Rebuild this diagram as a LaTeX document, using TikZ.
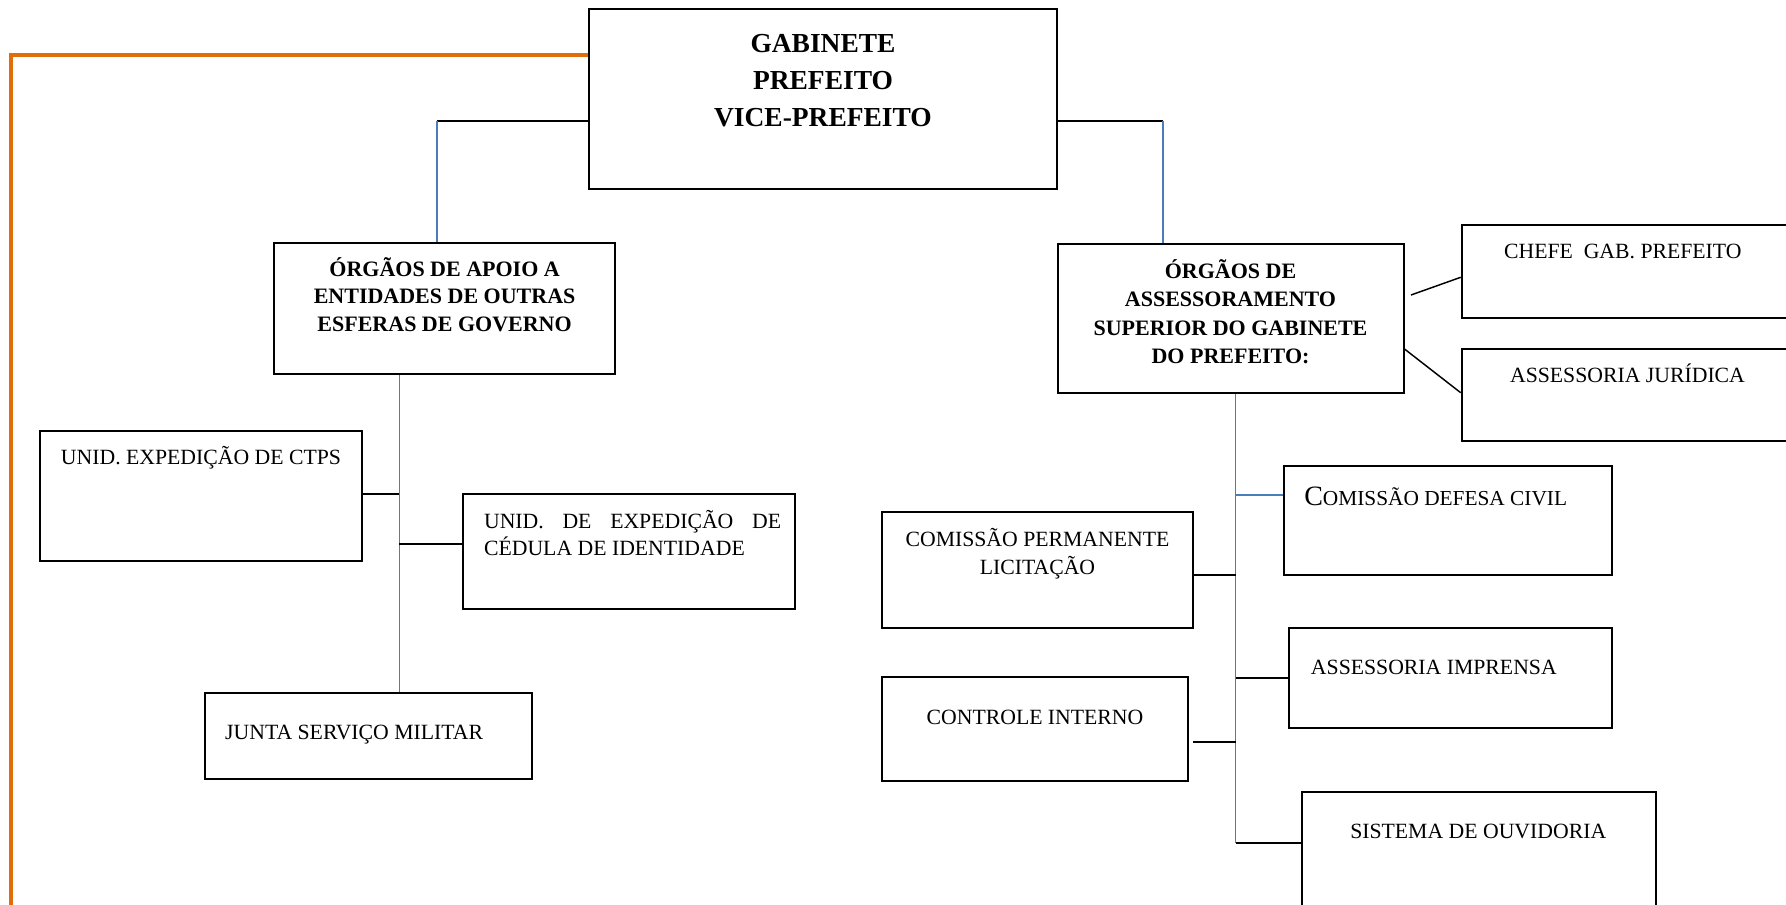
\documentclass[tikz,border=0pt]{standalone}
\usepackage{fontspec}
\setmainfont{Liberation Serif}
\usetikzlibrary{fit}
\definecolor{orgline}{HTML}{E36C0A}
\definecolor{bluline}{HTML}{4A7EBB}
\tikzset{
  box/.style={draw=black, line width=1.5pt, inner sep=0pt, rectangle},
  txt/.style={inner sep=0pt, font=\fontsize{16.3}{20.8}\selectfont},
  bigtxt/.style={inner sep=0pt, font=\bfseries\fontsize{20.6}{27.75}\selectfont, align=center},
  boldtxt/.style={inner sep=0pt, font=\bfseries\fontsize{16.5}{20.4}\selectfont, align=center},
  blk/.style={draw=black, line width=1.4pt},
  blu/.style={draw=bluline, line width=1.1pt},
  org/.style={draw=orgline, line width=3pt}
}
\begin{document}
\begin{tikzpicture}[x=0.75pt,y=-0.75pt]
\useasboundingbox (0,0) rectangle (1786,904);
\clip (0,0) rectangle (1786,904);
% boxes
\node[box, fit={(588.6,9) (1057,189.3)}] (gab) {};
\node[box, fit={(274,242.7) (615.3,374)}] (apoio) {};
\node[box, fit={(1057.6,244.3) (1403.5,392.7)}] (assess) {};
\node[box, fit={(1461.7,225) (1800,318.3)}] (chefe) {};
\node[box, fit={(1461.7,348.5) (1800,441)}] (jur) {};
\node[box, fit={(40.3,431) (362.4,560.7)}] (ctps) {};
\node[box, fit={(462.9,494.3) (795,609)}] (cedula) {};
\node[box, fit={(205,693.3) (532.4,779.3)}] (junta) {};
\node[box, fit={(1284,465.7) (1612,575.3)}] (defesa) {};
\node[box, fit={(882,512.3) (1193,628.3)}] (perm) {};
\node[box, fit={(1289.3,628.3) (1611.7,728)}] (impr) {};
\node[box, fit={(882,677.3) (1187.8,780.7)}] (contr) {};
\node[box, fit={(1301.5,791.7) (1655.7,930)}] (sist) {};
% texts (anchor=base is the baseline of the last line)
\node[bigtxt, anchor=base] (tgab) at (823,126) {GABINETE\\PREFEITO\\VICE-PREFEITO};
\node[boldtxt, anchor=base] (tapoio) at (444.6,331) {ÓRGÃOS DE APOIO A\\ENTIDADES DE OUTRAS\\ESFERAS DE GOVERNO};
\node[boldtxt, anchor=base, font=\bfseries\fontsize{16.5}{21.2}\selectfont] (tassess) at (1230.5,363.3) {ÓRGÃOS DE\\ASSESSORAMENTO\\SUPERIOR DO GABINETE\\DO PREFEITO:};
\node[txt, anchor=base west] (tchefe) at (1503.8,258) {CHEFE\ \ GAB. PREFEITO};
\node[txt, anchor=base west] (tjur) at (1509.8,382) {ASSESSORIA JURÍDICA};
\node[txt, anchor=base west] (tctps) at (60.7,464.3) {UNID. EXPEDIÇÃO DE CTPS};
\node[txt, anchor=base west, text width=222.8pt, align=justify] (tced) at (483.8,528) {UNID. DE EXPEDIÇÃO DE\linebreak CÉDULA DE IDENTIDADE};
\node[txt, anchor=base west] (tjunta) at (224.9,739) {JUNTA SERVIÇO MILITAR};
\node[txt, anchor=base west] (tdef) at (1304,505) {{\fontsize{21}{24}\selectfont C}{\fontsize{16}{20}\selectfont OMISSÃO DEFESA CIVIL}};
\node[txt, anchor=base, align=center] (tperm) at (1037.5,574) {COMISSÃO PERMANENTE\\LICITAÇÃO};
\node[txt, anchor=base west] (timpr) at (1310.7,674.7) {ASSESSORIA IMPRENSA};
\node[txt, anchor=base] (tcontr) at (1035,724) {CONTROLE INTERNO};
\node[txt, anchor=base west] (tsist) at (1350,838) {SISTEMA DE OUVIDORIA};
% helper coordinates
\coordinate (oc) at (10.7,55);
\coordinate (ob) at (10.7,920);
\coordinate (c1) at (436.9,120.7);
\coordinate (c2) at (1163,120.7);
\coordinate (sp1) at (399.3,0);
\coordinate (j1) at (399.3,494.3);
\coordinate (j2) at (399.3,544.3);
\coordinate (sp2top) at (1235.7,0);
\coordinate (sp2end) at (1235.7,843.3);
\coordinate (k1) at (1235.7,495);
\coordinate (k2) at (1235.7,575.3);
\coordinate (k3) at (1235.7,677.7);
\coordinate (k4) at (1235.7,741.7);
\coordinate (a1) at (1411,295);
\coordinate (a2) at (1461.7,277.3);
\coordinate (a3) at (1403.5,349);
\coordinate (a4) at (1461.7,392.7);
\coordinate (cg) at (1193.4,741.7);
% connectors
\draw[org] (gab.west |- oc) -- (oc) -- (ob);
\draw[blk] (gab.west |- c1) -- (c1);
\draw[blu] (c1) -- (apoio.north -| c1);
\draw[blk] (gab.east |- c2) -- (c2);
\draw[blu] (c2) -- (assess.north -| c2);
\draw[blu] (apoio.south -| sp1) -- (junta.north -| sp1);
\draw[blk] (ctps.east |- j1) -- (j1);
\draw[blk] (j2) -- (cedula.west |- j2);
\draw[blu] (assess.south -| sp2top) -- (sp2end);
\draw[blk, line width=1.1pt] (a1) -- (chefe.west |- a2);
\draw[blk, line width=1.1pt] (assess.east |- a3) -- (jur.west |- a4);
\draw[blu] (k1) -- (defesa.west |- k1);
\draw[blk] (perm.east |- k2) -- (k2);
\draw[blk] (k3) -- (impr.west |- k3);
\draw[blk] (cg) -- (k4);
\draw[blk] (sp2end) -- (sist.west |- sp2end);
\end{tikzpicture}
\end{document}
